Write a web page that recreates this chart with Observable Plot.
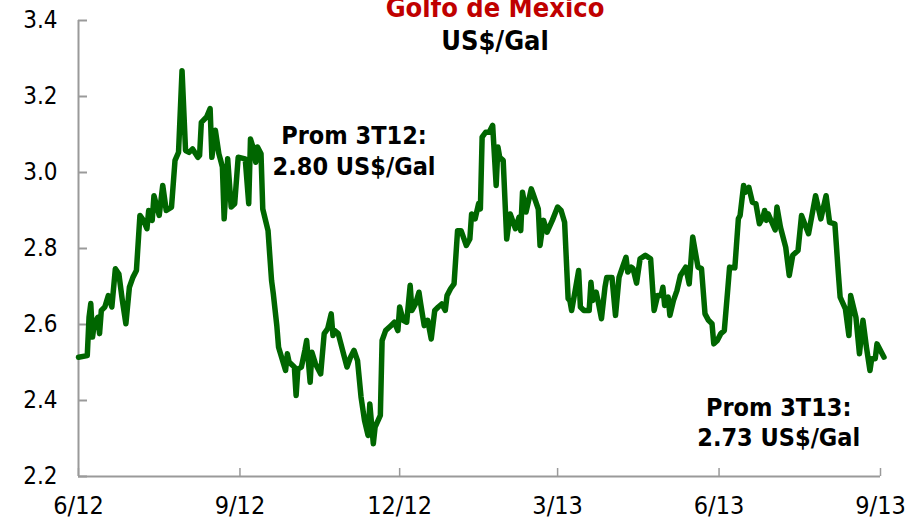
<!DOCTYPE html>
<html><head><meta charset="utf-8">
<script src="https://cdn.jsdelivr.net/npm/d3@7"></script>
<script src="https://cdn.jsdelivr.net/npm/@observablehq/plot@0.6"></script>
<style>
body{margin:0;background:#fff;}
#wrap{position:relative;width:910px;height:524px;overflow:hidden;font-family:"DejaVu Sans Condensed","DejaVu Sans",sans-serif;font-stretch:condensed;}
.t{position:absolute;left:0;width:990px;text-align:center;font-weight:bold;font-size:27px;line-height:27px;}
</style></head><body>
<div id="wrap"><div id="chart"></div>
<div class="t" style="top:-6px;color:#C00000">Golfo de México</div>
<div class="t" style="top:27px;color:#000">US$/Gal</div>
</div>
<script>
const startDate = "2012-06-01";
const dayOffsets = [0,5,6,7,8,9,11,12,13,15,17,19,21,23,25,27,29,31,33,35,37,39,40,42,43,46,48,50,53,55,57,59,61,63,65,68,69,70,73,75,76,78,80,81,82,83,85,87,89,91,95,97,98,100,101,102,104,105,108,110,111,113,114,118,119,120,123,124,125,127,129,130,132,133,135,138,140,142,144,145,146,148,151,153,155,157,159,161,163,165,166,168,169,172,173,175,178,180,182,183,185,187,189,190,192,194,195,197,199,201,203,205,207,209,210,212,214,216,218,221,223,224,226,228,229,230,232,234,236,238,239,240,242,244,246,249,251,252,253,255,258,259,262,263,265,267,270,273,275,277,279,280,281,283,285,286,288,291,292,293,295,296,298,300,301,304,306,308,310,312,313,315,316,318,320,323,326,328,330,332,333,334,336,337,339,341,343,346,348,350,353,355,357,359,361,362,364,366,368,370,371,374,376,377,379,380,382,384,386,388,390,391,392,393,397,398,400,403,405,407,410,412,416,420,423,426,428,431,433,434,437,439,440,443,445,447,449,451,452,454,455,459];
const prices = [2.514,2.518,2.619,2.655,2.567,2.602,2.619,2.576,2.637,2.646,2.676,2.646,2.747,2.733,2.663,2.602,2.698,2.724,2.742,2.887,2.874,2.852,2.900,2.874,2.939,2.887,2.966,2.900,2.909,3.032,3.053,3.268,3.058,3.053,3.062,3.040,3.045,3.132,3.146,3.168,3.040,3.111,3.049,3.032,3.014,2.878,3.036,2.909,2.918,3.040,3.036,2.918,3.088,3.058,3.027,3.067,3.049,2.904,2.847,2.716,2.681,2.597,2.540,2.479,2.523,2.501,2.488,2.413,2.483,2.488,2.532,2.558,2.448,2.527,2.497,2.470,2.576,2.589,2.628,2.571,2.584,2.576,2.523,2.488,2.514,2.532,2.505,2.409,2.347,2.308,2.391,2.286,2.330,2.361,2.558,2.584,2.597,2.606,2.584,2.646,2.611,2.606,2.703,2.637,2.654,2.685,2.654,2.597,2.611,2.562,2.637,2.646,2.654,2.637,2.676,2.694,2.707,2.847,2.847,2.808,2.825,2.891,2.878,2.918,2.904,3.093,3.106,3.106,3.124,2.966,3.067,3.040,3.032,2.825,2.891,2.852,2.882,2.847,2.948,2.896,2.957,2.944,2.904,2.808,2.874,2.843,2.874,2.909,2.900,2.869,2.668,2.663,2.637,2.689,2.742,2.646,2.637,2.637,2.711,2.663,2.685,2.663,2.615,2.698,2.724,2.724,2.624,2.724,2.751,2.777,2.738,2.751,2.747,2.709,2.773,2.782,2.773,2.637,2.676,2.676,2.698,2.650,2.672,2.624,2.663,2.689,2.729,2.751,2.707,2.830,2.751,2.747,2.628,2.611,2.602,2.549,2.558,2.576,2.584,2.694,2.751,2.749,2.878,2.887,2.966,2.948,2.961,2.922,2.918,2.865,2.882,2.900,2.874,2.891,2.849,2.909,2.856,2.803,2.729,2.782,2.795,2.887,2.839,2.939,2.878,2.939,2.869,2.865,2.733,2.672,2.641,2.571,2.676,2.619,2.523,2.611,2.540,2.479,2.510,2.510,2.549,2.514];
const xTickDates = ["2012-06-01","2012-09-01","2012-12-01","2013-03-01","2013-06-01","2013-09-01"];
const xTickLabels = ["6/12","9/12","12/12","3/13","6/13","9/13"];
const yTicks = [2.2,2.4,2.6,2.8,3.0,3.2,3.4];
const yTickLabels = ["2.2","2.4","2.6","2.8","3.0","3.2","3.4"];
const annoTexts = ["Prom 3T12:\n2.80 US$/Gal","Prom 3T13:\n2.73 US$/Gal"];
const annoDates = ["2012-11-05","2013-07-05"];
const annoValues = [3.06, 2.345];

const start = new Date(startDate);
const data = dayOffsets.map((d, i) => ({date: d3.utcDay.offset(start, d), price: prices[i]}));
const xDates = xTickDates.map(s => new Date(s));
const xLabelMap = new Map(xDates.map((d, i) => [+d, xTickLabels[i]]));
const yLabelMap = new Map(yTicks.map((v, i) => [v, yTickLabels[i]]));
const annos = annoTexts.map((t, i) => ({text: t, date: new Date(annoDates[i]), value: annoValues[i]}));
const font = '"DejaVu Sans Condensed","DejaVu Sans",sans-serif';
const axisGray = "#9a9a9a";

const chart = Plot.plot({
  width: 910, height: 524,
  marginLeft: 78, marginRight: 30, marginTop: 20, marginBottom: 48,
  style: {fontFamily: font, fontSize: "24px", color: "#000", background: "#fff", overflow: "visible", fontStretch: "condensed"},
  x: {type: "utc", domain: [xDates[0], xDates[xDates.length - 1]]},
  y: {domain: [2.2, 3.4]},
  marks: [
    Plot.axisY(yTicks, {anchor: "left", tickSize: 0, tickPadding: 21, tickFormat: v => yLabelMap.get(v), fontSize: 24}),
    Plot.axisY(yTicks, {anchor: "left", tickSize: -9, stroke: axisGray, strokeWidth: 2, tickFormat: () => ""}),
    Plot.axisX(xDates, {anchor: "bottom", tickSize: 0, tickPadding: 20, tickFormat: d => xLabelMap.get(+d), fontSize: 25}),
    Plot.axisX(xDates, {anchor: "bottom", tickSize: -8, stroke: axisGray, strokeWidth: 1.5, tickFormat: () => ""}),
    Plot.ruleX([xDates[0]], {stroke: axisGray, strokeWidth: 2}),
    Plot.ruleY([2.2], {stroke: axisGray, strokeWidth: 2}),
    Plot.line(data, {x: "date", y: "price", stroke: "#006600", strokeWidth: 5.5, strokeLinejoin: "round", strokeLinecap: "round"}),
    Plot.text(annos, {x: "date", y: "value", text: "text", fontWeight: "bold", fontSize: 25, lineHeight: 1.22, fill: "#000"})
  ]
});
document.getElementById("chart").appendChild(chart);
</script>
</body></html>
